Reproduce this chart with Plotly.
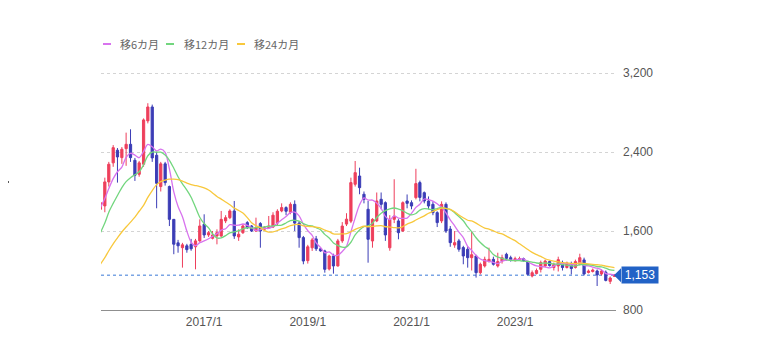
import pandas as pd
import plotly.graph_objects as go

# ---- data (monthly candles, 2015/1 - 2024/12) ----
months = pd.date_range("2015-01-01", periods=120, freq="MS")

opens = [1820, 1854, 2097, 2290, 2418, 2343, 2434, 2478, 2316, 2174,
         2276, 2715, 2856, 2367, 2050, 2280, 2050, 1718, 1480, 1431,
         1450, 1465, 1440, 1500, 1668, 1560, 1526, 1550, 1550, 1702,
         1735, 1803, 1540, 1583, 1685, 1651, 1600, 1675, 1617, 1634,
         1640, 1680, 1803, 1837, 1790, 1870, 1680, 1533, 1300, 1430,
         1520, 1420, 1398, 1215, 1347, 1246, 1500, 1670, 1700, 2073,
         2157, 1972, 1820, 1499, 1702, 1921, 1887, 1430, 1718, 1702,
         1600, 1904, 1887, 1938, 2090, 1988, 1904, 1870, 1786, 1702,
         1870, 1620, 1458, 1500, 1432, 1415, 1330, 1347, 1178, 1246,
         1296, 1313, 1246, 1296, 1364, 1330, 1300, 1310, 1320, 1290,
         1144, 1170, 1212, 1246, 1290, 1230, 1246, 1280, 1230, 1270,
         1230, 1263, 1307, 1180, 1190, 1195, 1165, 1183, 1090, 1140]
highs = [1955, 2140, 2300, 2470, 2440, 2450, 2596, 2630, 2340, 2310,
         2740, 2894, 2880, 2400, 2300, 2300, 2060, 1720, 1510, 1480,
         1470, 1520, 1520, 1718, 1769, 1600, 1600, 1617, 1803, 1760,
         1820, 1904, 1617, 1670, 1700, 1660, 1735, 1690, 1650, 1752,
         1790, 1820, 1880, 1850, 1890, 1910, 1700, 1550, 1460, 1530,
         1550, 1430, 1410, 1360, 1370, 1520, 1690, 1780, 2140, 2309,
         2241, 2000, 1904, 1730, 1990, 1990, 1900, 1760, 2124, 1720,
         1900, 1970, 1910, 2230, 2110, 2000, 1950, 1900, 1800, 1900,
         1890, 1650, 1600, 1520, 1450, 1440, 1600, 1360, 1280, 1340,
         1431, 1340, 1380, 1360, 1380, 1350, 1340, 1340, 1330, 1300,
         1200, 1220, 1300, 1310, 1300, 1280, 1340, 1300, 1290, 1290,
         1310, 1370, 1330, 1210, 1220, 1210, 1210, 1200, 1140, 1165]
lows = [1740, 1790, 2050, 2250, 2090, 2280, 2260, 2300, 2107, 2150,
        2250, 2690, 2300, 1830, 2000, 2060, 1650, 1365, 1380, 1229,
        1380, 1400, 1212, 1490, 1530, 1540, 1515, 1465, 1540, 1680,
        1720, 1520, 1500, 1570, 1620, 1590, 1590, 1431, 1600, 1620,
        1630, 1650, 1790, 1760, 1770, 1600, 1431, 1263, 1270, 1398,
        1398, 1390, 1178, 1200, 1168, 1240, 1480, 1650, 1680, 2050,
        1972, 1880, 1279, 1431, 1690, 1820, 1500, 1400, 1680, 1516,
        1590, 1830, 1820, 1920, 1900, 1880, 1820, 1760, 1640, 1680,
        1580, 1440, 1430, 1390, 1263, 1229, 1200, 1128, 1160, 1230,
        1280, 1250, 1230, 1270, 1300, 1290, 1290, 1300, 1290, 1150,
        1130, 1160, 1180, 1230, 1240, 1200, 1190, 1200, 1220, 1160,
        1220, 1250, 1150, 1170, 1180, 1043, 1150, 1090, 1063, 1135]
closes = [1887, 2097, 2276, 2444, 2350, 2428, 2478, 2343, 2164, 2290,
          2725, 2856, 2340, 2083, 2280, 2090, 1718, 1466, 1450, 1460,
          1411, 1420, 1500, 1651, 1560, 1583, 1560, 1583, 1718, 1735,
          1803, 1550, 1567, 1651, 1634, 1600, 1634, 1600, 1634, 1651,
          1760, 1800, 1837, 1800, 1870, 1680, 1533, 1296, 1440, 1510,
          1420, 1398, 1212, 1347, 1246, 1500, 1650, 1720, 2090, 2191,
          2039, 1921, 1516, 1718, 1904, 1870, 1560, 1718, 1750, 1583,
          1887, 1880, 1853, 2080, 1940, 1904, 1853, 1786, 1685, 1870,
          1600, 1482, 1482, 1415, 1347, 1330, 1360, 1178, 1263, 1313,
          1313, 1263, 1290, 1330, 1323, 1310, 1320, 1320, 1300, 1161,
          1178, 1200, 1279, 1296, 1250, 1260, 1310, 1230, 1275, 1220,
          1290, 1330, 1165, 1195, 1205, 1155, 1195, 1100, 1124, 1153]

# moving averages
ma6 = [1837, 1930, 2030, 2130, 2200, 2247, 2346, 2387, 2368, 2342,
       2405, 2476, 2453, 2410, 2429, 2396, 2228, 1996, 1848, 1744,
       1599, 1488, 1451, 1482, 1500, 1521, 1546, 1573, 1609, 1623,
       1664, 1658, 1659, 1671, 1657, 1634, 1606, 1614, 1626, 1626,
       1647, 1680, 1714, 1747, 1786, 1791, 1753, 1669, 1603, 1555,
       1480, 1433, 1379, 1388, 1356, 1354, 1392, 1446, 1592, 1733,
       1865, 1935, 1913, 1913, 1882, 1828, 1748, 1714, 1753, 1731,
       1728, 1730, 1779, 1839, 1871, 1924, 1918, 1903, 1875, 1840,
       1783, 1713, 1651, 1589, 1533, 1443, 1403, 1352, 1316, 1299,
       1293, 1282, 1270, 1295, 1305, 1305, 1306, 1316, 1317, 1289,
       1265, 1247, 1240, 1236, 1227, 1244, 1266, 1271, 1270, 1258,
       1264, 1276, 1252, 1246, 1234, 1223, 1208, 1169, 1162, 1155]
ma12 = [1583, 1680, 1790, 1880, 1960, 2040, 2100, 2140, 2170, 2200,
        2270, 2362, 2399, 2398, 2398, 2369, 2316, 2236, 2150, 2077,
        2014, 1942, 1840, 1739, 1674, 1632, 1572, 1530, 1530, 1553,
        1582, 1590, 1603, 1622, 1633, 1629, 1635, 1636, 1642, 1648,
        1652, 1657, 1660, 1681, 1706, 1708, 1700, 1675, 1658, 1651,
        1633, 1612, 1566, 1529, 1479, 1454, 1436, 1439, 1486, 1560,
        1610, 1645, 1652, 1679, 1737, 1780, 1807, 1825, 1833, 1822,
        1805, 1779, 1763, 1777, 1812, 1827, 1823, 1816, 1827, 1839,
        1827, 1818, 1785, 1746, 1704, 1641, 1593, 1532, 1483, 1444,
        1413, 1362, 1336, 1324, 1310, 1302, 1299, 1299, 1294, 1292,
        1285, 1276, 1273, 1276, 1272, 1266, 1265, 1259, 1255, 1247,
        1246, 1260, 1259, 1258, 1252, 1240, 1236, 1223, 1207, 1201]
ma24 = [1265, 1330, 1400, 1470, 1530, 1590, 1640, 1690, 1740, 1800,
        1860, 1940, 2010, 2070, 2100, 2115, 2125, 2125, 2120, 2105,
        2085, 2070, 2060, 2050, 2037, 2015, 1985, 1950, 1923, 1894,
        1866, 1833, 1808, 1782, 1736, 1684, 1654, 1634, 1607, 1589,
        1591, 1605, 1621, 1635, 1654, 1665, 1666, 1652, 1647, 1644,
        1638, 1630, 1609, 1593, 1570, 1568, 1571, 1574, 1593, 1617,
        1634, 1648, 1643, 1646, 1652, 1655, 1643, 1640, 1635, 1631,
        1645, 1670, 1687, 1711, 1732, 1753, 1780, 1798, 1817, 1832,
        1830, 1820, 1795, 1762, 1734, 1709, 1702, 1680, 1653, 1630,
        1620, 1601, 1582, 1571, 1548, 1524, 1502, 1470, 1443, 1412,
        1384, 1360, 1343, 1319, 1304, 1295, 1288, 1280, 1277, 1273,
        1270, 1276, 1272, 1267, 1263, 1258, 1254, 1244, 1236, 1230]

ma_names = ["移6カ月", "移12カ月", "移24カ月"]
ma_colors = ["#d873ee", "#72d67e", "#f8c83c"]
last_price = 1153

y_ticks = [800, 1600, 2400, 3200]
x_tick_dates = ["2017-01-01", "2019-01-01", "2021-01-01", "2023-01-01"]
x_tick_text = ["2017/1", "2019/1", "2021/1", "2023/1"]

# ---- layout geometry (page places the figure at an 8px offset) ----
OX, OY = 8, 7
W, H = 755, 352
PW, PH = 515, 249
L = 101 - OX          # plot left in figure coords
T = 60 - OY           # plot top in figure coords
R = W - L - PW
B = H - T - PH
Y0, Y1 = 800, 800 + PH * (800 / 79)


def px(x):
    """screen x (reference pixels) -> paper fraction"""
    return (x - OX - L) / PW


def py(y):
    """screen y (reference pixels) -> paper fraction"""
    return (T + PH - (y - OY)) / PH


FONT = "Noto Sans CJK JP, Noto Sans, sans-serif"
NUMFONT = "Liberation Sans, Arial, sans-serif"

fig = go.Figure()
fig.add_trace(go.Candlestick(
    x=months, open=opens, high=highs, low=lows, close=closes,
    increasing=dict(line=dict(color="#ee3f5c", width=1), fillcolor="#ee3f5c"),
    decreasing=dict(line=dict(color="#3b3db6", width=1), fillcolor="#3b3db6"),
    whiskerwidth=0, showlegend=False, hoverinfo="skip",
))
for name, vals, col in zip(ma_names, [ma6, ma12, ma24], ma_colors):
    fig.add_trace(go.Scatter(
        x=months, y=vals, mode="lines", name=name,
        line=dict(color=col, width=1.3, shape="spline", smoothing=0.8),
        showlegend=False, hoverinfo="skip",
    ))

shapes = []
annotations = []

# last price dashed line
shapes.append(dict(type="line", xref="paper", yref="y", x0=0, x1=1,
                   y0=last_price, y1=last_price, layer="below",
                   line=dict(color="#7ba5e4", width=1.5, dash="3px,3px")))
# price tag: arrow tip + label box
dy = 7 * 800 / 79
tip_path = (f"M {px(614)} {last_price} L {px(621)} {last_price + dy} "
            f"L {px(621)} {last_price - dy} Z")
shapes.append(dict(type="path", xref="paper", yref="y", path=tip_path,
                   fillcolor="#2262c6", line=dict(width=0), layer="above"))
annotations.append(dict(xref="paper", yref="y", x=px(620.5), y=last_price,
                        xanchor="left", yanchor="middle",
                        text=f"{last_price:,}", showarrow=False,
                        bgcolor="#2262c6", borderpad=1, width=34, height=14,
                        align="center",
                        font=dict(color="white", size=12, family=NUMFONT)))

# manual legend
leg_items = [(103, 111, 118), (166, 174, 182), (237, 245, 252)]
for (a, b, t), name, col in zip(leg_items, ma_names, ma_colors):
    shapes.append(dict(type="line", xref="paper", yref="paper",
                       x0=px(a), x1=px(b), y0=py(43), y1=py(43),
                       line=dict(color=col, width=2)))
    annotations.append(dict(xref="paper", yref="paper", x=px(t), y=py(43),
                            xanchor="left", yanchor="middle", text=name,
                            showarrow=False,
                            font=dict(color="#666666", size=11, family=FONT)))

# tiny stray dot at far left
shapes.append(dict(type="circle", xref="paper", yref="paper",
                   x0=px(7), x1=px(9), y0=py(182), y1=py(180),
                   fillcolor="#222222", line=dict(width=0)))

fig.update_layout(
    width=W, height=H,
    margin=dict(l=L, r=R, t=T, b=B),
    paper_bgcolor="white", plot_bgcolor="white",
    showlegend=False,
    boxgap=0.2,
    shapes=shapes, annotations=annotations,
    font=dict(family=FONT, size=11, color="#555555"),
    xaxis=dict(
        type="date",
        range=["2015-01-05", "2024-12-12"],
        rangeslider=dict(visible=False),
        showgrid=False, zeroline=False,
        showline=True, linecolor="#8f8f8f", linewidth=1.2,
        tickvals=x_tick_dates, ticktext=x_tick_text,
        ticks="", tickfont=dict(size=12, color="#555555", family=NUMFONT),
    ),
    yaxis=dict(
        side="right", range=[Y0, Y1],
        tickvals=y_ticks, tickformat=",",
        showgrid=True, gridcolor="#d4d4d4", griddash="3px,3px", gridwidth=1,
        zeroline=False, showline=False, ticks="",
        ticklabelstandoff=6,
        tickfont=dict(size=12, color="#555555", family=NUMFONT),
    ),
)

fig.write_html("out.html")
